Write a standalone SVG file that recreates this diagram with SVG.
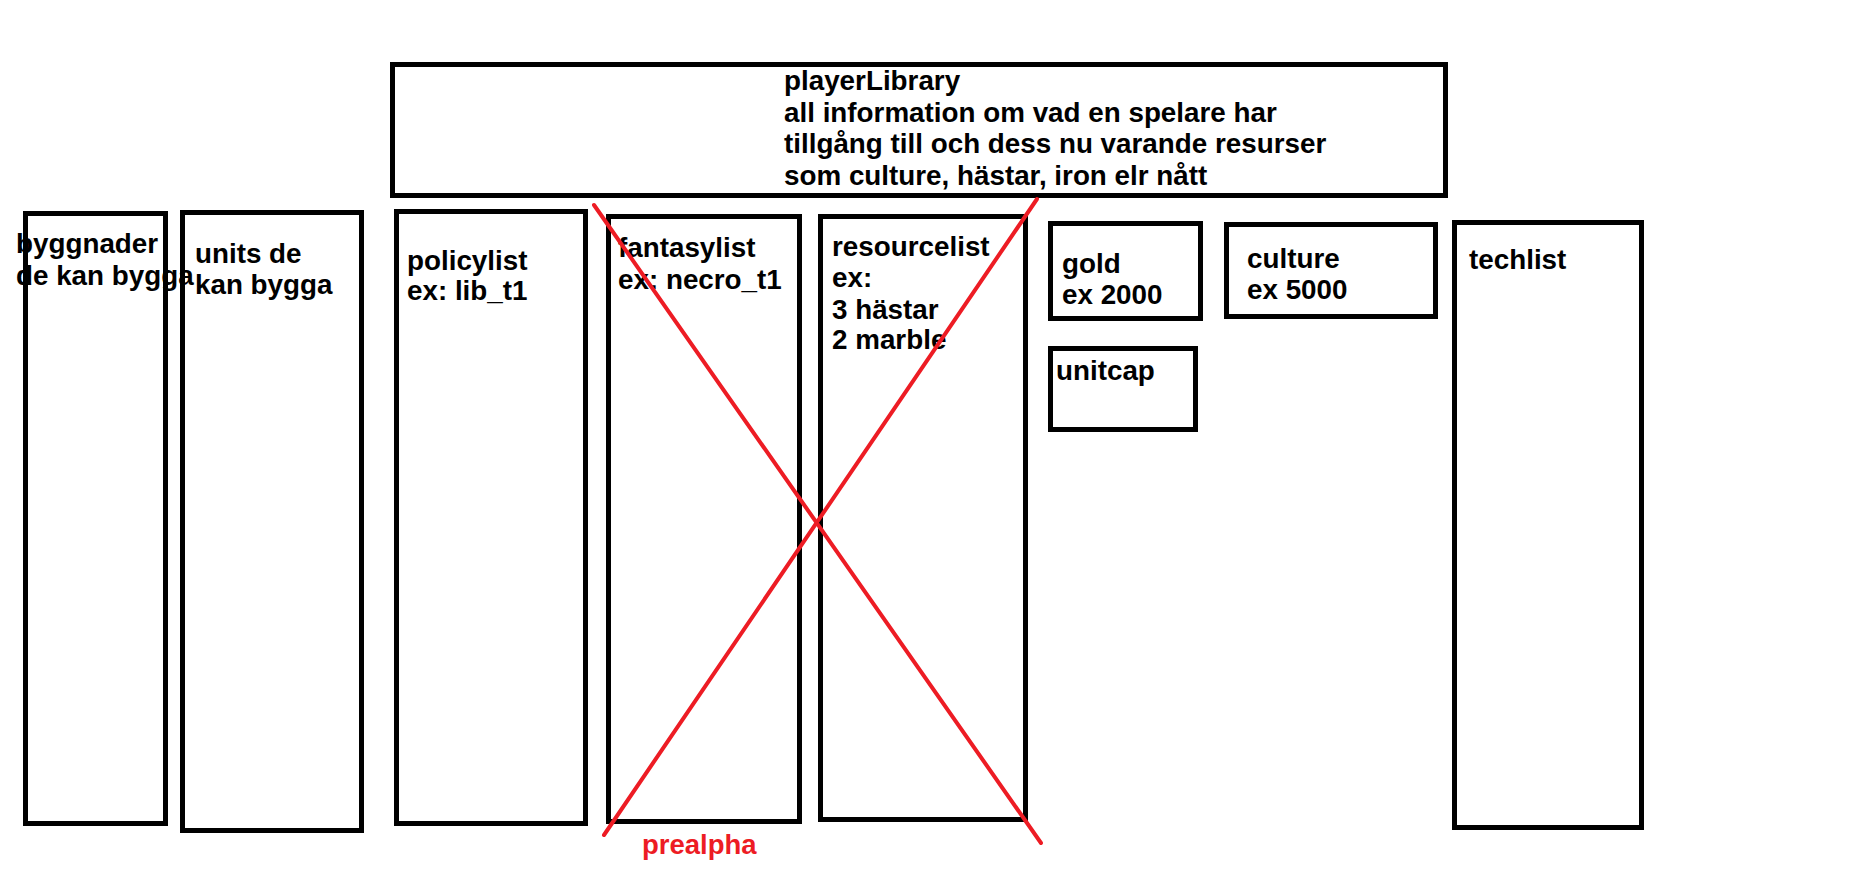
<svg xmlns="http://www.w3.org/2000/svg" width="1876" height="878" viewBox="0 0 1876 878">
<style>
.box{fill:none;stroke:#000;stroke-width:5}
.t{font-family:"Liberation Sans",Arial,sans-serif;font-weight:bold;font-size:27.8px;fill:#000}
.red{stroke:#ED1C24;stroke-width:4;stroke-linecap:round;fill:none}
.rt{font-family:"Liberation Sans",Arial,sans-serif;font-weight:bold;font-size:27.5px;fill:#ED1C24}
</style>
<rect width="1876" height="878" fill="#fff"/>
<g id="playerLibrary">
<rect class="box" x="392.5" y="64.5" width="1053" height="131"/>
<text class="t" x="784" y="90">playerLibrary</text>
<text class="t" x="784" y="122">all information om vad en spelare har</text>
<text class="t" x="784" y="153">tillgång till och dess nu varande resurser</text>
<text class="t" x="784" y="185">som culture, hästar, iron elr nått</text>
</g>
<g id="byggnader">
<rect class="box" x="25.5" y="213.5" width="140" height="610"/>
<text class="t" x="16" y="253">byggnader</text>
<text class="t" x="16" y="285">de kan bygga</text>
</g>
<g id="units">
<rect class="box" x="182.5" y="212.5" width="179" height="618"/>
<text class="t" x="195" y="263">units de</text>
<text class="t" x="195" y="294">kan bygga</text>
</g>
<g id="policylist">
<rect class="box" x="396.5" y="211.5" width="189" height="612"/>
<text class="t" x="407" y="270">policylist</text>
<text class="t" x="407" y="300">ex: lib_t1</text>
</g>
<g id="fantasylist">
<rect class="box" x="608.5" y="216.5" width="191" height="605"/>
<text class="t" x="618" y="257">fantasylist</text>
<text class="t" x="618" y="289">ex: necro_t1</text>
</g>
<g id="resourcelist">
<rect class="box" x="820.5" y="216.5" width="205" height="603"/>
<text class="t" x="832" y="256">resourcelist</text>
<text class="t" x="832" y="287">ex:</text>
<text class="t" x="832" y="319">3 hästar</text>
<text class="t" x="832" y="349">2 marble</text>
</g>
<g id="gold">
<rect class="box" x="1050.5" y="223.5" width="150" height="95"/>
<text class="t" x="1062" y="273">gold</text>
<text class="t" x="1062" y="304">ex 2000</text>
</g>
<g id="culture">
<rect class="box" x="1226.5" y="224.5" width="209" height="92"/>
<text class="t" x="1247" y="268">culture</text>
<text class="t" x="1247" y="299">ex 5000</text>
</g>
<g id="unitcap">
<rect class="box" x="1050.5" y="348.5" width="145" height="81"/>
<text class="t" x="1056" y="380">unitcap</text>
</g>
<g id="techlist">
<rect class="box" x="1454.5" y="222.5" width="187" height="605"/>
<text class="t" x="1469" y="269">techlist</text>
</g>
<g id="connectors">
<line class="red" x1="594" y1="205" x2="1041" y2="843"/>
<line class="red" x1="1037" y1="199" x2="604" y2="835"/>
<text class="rt" x="642" y="854">prealpha</text>
</g>
</svg>
